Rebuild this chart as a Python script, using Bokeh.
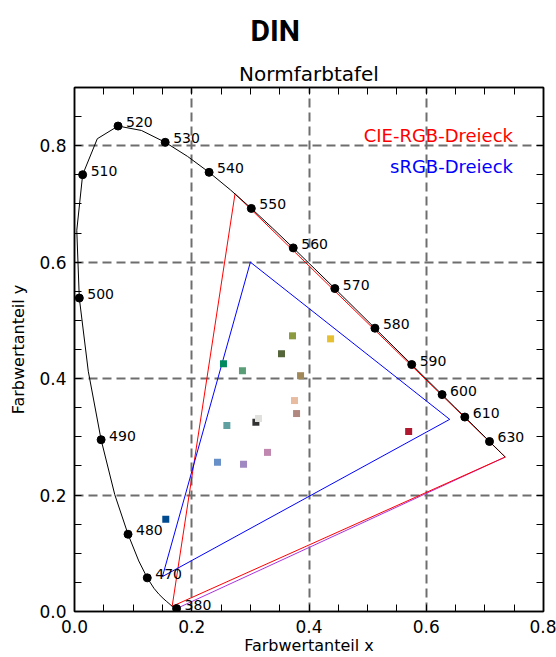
from bokeh.plotting import figure
from bokeh.models import (Range1d, LinearAxis, Title, Label, LabelSet,
                          ColumnDataSource, FixedTicker, CustomJSTickFormatter,
                          PrintfTickFormatter)
from bokeh.core.properties import value
from bokeh.embed import file_html
from bokeh.resources import INLINE

# CIE 1931 spectral locus (5 nm steps)
wl = [380, 385, 390, 395, 400, 405, 410, 415, 420, 425, 430, 435, 440, 445,
      450, 455, 460, 465, 470, 475, 480, 485, 490, 495, 500, 505, 510, 515,
      520, 525, 530, 535, 540, 545, 550, 555, 560, 565, 570, 575, 580, 585,
      590, 595, 600, 605, 610, 615, 620, 625, 630, 635, 640, 645, 650, 655,
      660, 665, 670, 675, 680, 685, 690, 695, 700]
locus_x = [0.1741, 0.1740, 0.1738, 0.1736, 0.1733, 0.1730, 0.1726, 0.1721,
           0.1714, 0.1703, 0.1689, 0.1669, 0.1644, 0.1611, 0.1566, 0.1510,
           0.1440, 0.1355, 0.1241, 0.1096, 0.0913, 0.0687, 0.0454, 0.0235,
           0.0082, 0.0039, 0.0139, 0.0389, 0.0743, 0.1142, 0.1547, 0.1929,
           0.2296, 0.2658, 0.3016, 0.3373, 0.3731, 0.4087, 0.4441, 0.4788,
           0.5125, 0.5448, 0.5752, 0.6029, 0.6270, 0.6482, 0.6658, 0.6801,
           0.6915, 0.7006, 0.7079, 0.7140, 0.7190, 0.7230, 0.7260, 0.7283,
           0.7300, 0.7311, 0.7320, 0.7327, 0.7334, 0.7340, 0.7344, 0.7346,
           0.7347]
locus_y = [0.0050, 0.0050, 0.0049, 0.0049, 0.0048, 0.0048, 0.0048, 0.0048,
           0.0051, 0.0058, 0.0069, 0.0086, 0.0109, 0.0138, 0.0177, 0.0227,
           0.0297, 0.0399, 0.0578, 0.0868, 0.1327, 0.2007, 0.2950, 0.4127,
           0.5384, 0.6548, 0.7502, 0.8120, 0.8338, 0.8262, 0.8059, 0.7816,
           0.7543, 0.7243, 0.6923, 0.6589, 0.6245, 0.5896, 0.5547, 0.5202,
           0.4866, 0.4544, 0.4242, 0.3965, 0.3725, 0.3514, 0.3340, 0.3197,
           0.3083, 0.2993, 0.2920, 0.2859, 0.2809, 0.2770, 0.2740, 0.2717,
           0.2700, 0.2689, 0.2680, 0.2673, 0.2666, 0.2660, 0.2656, 0.2654,
           0.2653]

marked_wl = [380, 470, 480, 490, 500, 510, 520, 530, 540, 550, 560, 570,
             580, 590, 600, 610, 630]

# Triangles
cie_rgb_x = [0.7347, 0.2738, 0.1666, 0.7347]
cie_rgb_y = [0.2653, 0.7174, 0.0089, 0.2653]
srgb_x = [0.64, 0.30, 0.15, 0.64]
srgb_y = [0.33, 0.60, 0.06, 0.33]
purple_x = [0.1741, 0.7347]
purple_y = [0.0050, 0.2653]

# colour samples
sample_x = [0.3719, 0.4368, 0.3531, 0.2541, 0.2865, 0.3856, 0.3753, 0.3788,
            0.3094, 0.3139, 0.2599, 0.5700, 0.3292, 0.2439, 0.2883, 0.1557]
sample_y = [0.4735, 0.4683, 0.4427, 0.4256, 0.4136, 0.4050, 0.3623, 0.3400,
            0.3251, 0.3315, 0.3195, 0.3092, 0.2733, 0.2562, 0.2527, 0.1586]
sample_colors = ["#8c9a40", "#e6c030", "#55663a", "#008a60", "#5a9e78",
                 "#a08858", "#e8bca0", "#b08880", "#333333", "#e0e0dc",
                 "#60a0a0", "#b01830", "#c088b0", "#6890c8", "#a088c0",
                 "#004a90"]

x_major = [0.0, 0.2, 0.4, 0.6, 0.8]
x_minor = [0.05, 0.1, 0.15, 0.25, 0.3, 0.35, 0.45, 0.5, 0.55, 0.65, 0.7, 0.75]
y_major = [0.0, 0.2, 0.4, 0.6, 0.8]
y_minor = [0.05, 0.1, 0.15, 0.25, 0.3, 0.35, 0.45, 0.5, 0.55, 0.65, 0.7, 0.75, 0.85]

FONT = "DejaVu Sans"

p = figure(width=556, height=657, x_range=Range1d(0, 0.8), y_range=Range1d(0, 0.9),
           output_backend="svg", toolbar_location=None, title=None,
           min_border_left=74, min_border_right=13, min_border_top=86,
           min_border_bottom=45)
p.background_fill_color = "white"
p.border_fill_color = "white"
p.outline_line_color = "black"
p.outline_line_width = 1.5

xt = FixedTicker(ticks=x_major, minor_ticks=x_minor)
yt = FixedTicker(ticks=y_major, minor_ticks=y_minor)

def style_axis(ax, labels=True):
    ax.axis_line_color = "black"
    ax.axis_line_width = 1.5
    ax.major_tick_in = 7
    ax.major_tick_out = 0
    ax.minor_tick_in = 7
    ax.minor_tick_out = 0
    ax.major_tick_line_color = "black"
    ax.minor_tick_line_color = "black"
    ax.major_label_text_font = FONT
    ax.major_label_text_font_size = "17px"
    ax.major_label_text_color = "black"
    ax.axis_label_text_font = FONT
    ax.axis_label_text_font_size = "16px"
    ax.axis_label_text_font_style = "normal"
    ax.axis_label_text_color = "black"
    if labels:
        ax.formatter = PrintfTickFormatter(format="%.1f")
    else:
        ax.formatter = CustomJSTickFormatter(code="return ''")
        ax.major_label_text_font_size = "0px"
        ax.major_label_standoff = 0

xa = p.xaxis[0]
xa.ticker = xt
style_axis(xa)
xa.axis_label = "Farbwertanteil x"
xa.major_label_standoff = 8
xa.axis_label_standoff = 0

ya = p.yaxis[0]
ya.ticker = yt
style_axis(ya)
ya.axis_label = "Farbwertanteil y"
ya.major_label_standoff = 8
ya.axis_label_standoff = 8

top = LinearAxis(ticker=xt)
style_axis(top, labels=False)
p.add_layout(top, "above")
right = LinearAxis(ticker=yt)
style_axis(right, labels=False)
p.add_layout(right, "right")

p.xgrid.ticker = FixedTicker(ticks=x_major)
p.ygrid.ticker = FixedTicker(ticks=y_major)
for g in (p.xgrid, p.ygrid):
    g.grid_line_color = "#6e6e6e"
    g.grid_line_width = 2
    g.grid_line_dash = "9 5"

p.add_layout(Title(text="Normfarbtafel", align="center", text_font=FONT,
                   text_font_size="20px", text_font_style="normal",
                   text_color="black", standoff=4), "above")
p.add_layout(Title(text="DIN", align="left", text_font="Roboto",
                   text_font_size="30px", text_font_style="bold",
                   text_color="black", standoff=20, offset=176), "above")

# lines
p.line(purple_x, purple_y, line_color="#aa33dd", line_width=1)
p.line(cie_rgb_x, cie_rgb_y, line_color="#ff0000", line_width=1)
p.line(srgb_x, srgb_y, line_color="#0000ff", line_width=1)
p.line(locus_x, locus_y, line_color="black", line_width=1)

# samples
p.scatter(sample_x, sample_y, marker="square", size=7, fill_color=sample_colors,
          line_color=None)

# marked wavelengths
mx = [locus_x[wl.index(w)] for w in marked_wl]
my = [locus_y[wl.index(w)] for w in marked_wl]
src = ColumnDataSource(dict(x=mx, y=my, t=[str(w) for w in marked_wl]))
p.scatter("x", "y", source=src, size=8, fill_color="black", line_color="black")
p.add_layout(LabelSet(x="x", y="y", text="t", source=src, x_offset=8, y_offset=4,
                      text_baseline="middle", text_font=value(FONT),
                      text_font_size="14px", text_color="black"))

p.add_layout(Label(x=0.748, y=0.8174, text="CIE-RGB-Dreieck", text_align="right",
                   text_baseline="middle", text_font=FONT,
                   text_font_size="18px", text_color="#ff0000"))
p.add_layout(Label(x=0.748, y=0.7635, text="sRGB-Dreieck", text_align="right",
                   text_baseline="middle", text_font=FONT,
                   text_font_size="18px", text_color="#0000ff"))

open("out.html", "w").write(file_html(p, INLINE))
